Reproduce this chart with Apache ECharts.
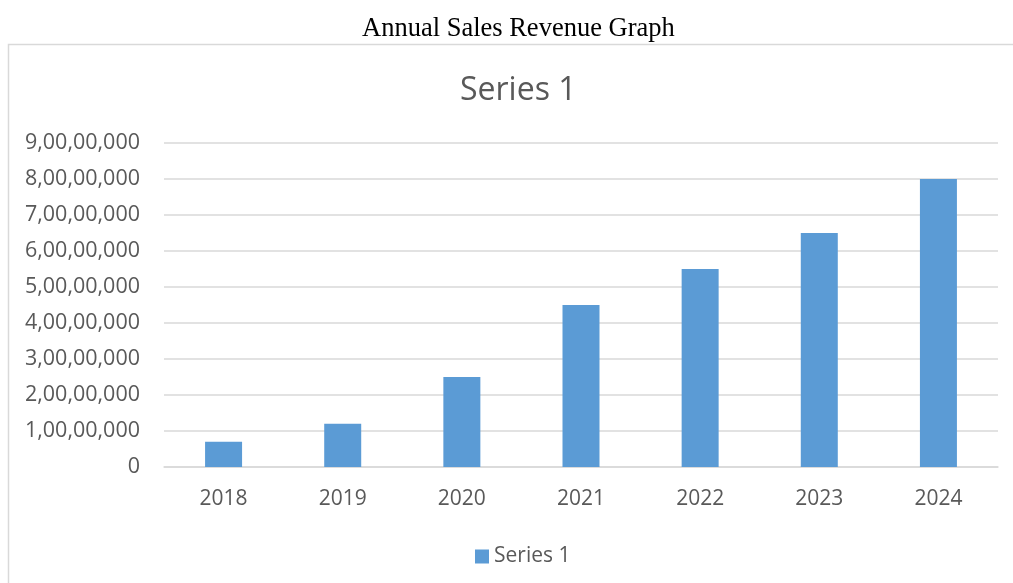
<!DOCTYPE html>
<html>
<head>
<meta charset="utf-8">
<script src="https://cdn.jsdelivr.net/npm/echarts@6/dist/echarts.min.js"></script>
<style>
html,body{margin:0;padding:0;background:#fff;}
#chart{width:1013px;height:583px;}
</style>
</head>
<body>
<div id="chart"></div>
<script>
const pageTitle = "Annual Sales Revenue Graph";
const chartTitle = "Series 1";
const seriesName = "Series 1";
const years = ["2018", "2019", "2020", "2021", "2022", "2023", "2024"];
const revenue = [7000000, 12000000, 25000000, 45000000, 55000000, 65000000, 80000000];
const yMin = 0, yMax = 90000000, yStep = 10000000;

function indianFormat(v) {
  const s = String(Math.round(v));
  if (s.length <= 3) return s;
  const last3 = s.slice(-3);
  let rest = s.slice(0, -3);
  const parts = [];
  while (rest.length > 2) { parts.unshift(rest.slice(-2)); rest = rest.slice(0, -2); }
  if (rest.length) parts.unshift(rest);
  return parts.join(",") + "," + last3;
}

const gray = "#595959";
const lineGray = "#d9d9d9";
const font = "'Open Sans', sans-serif";

const chart = echarts.init(document.getElementById("chart"), null, {renderer: "canvas"});
chart.setOption({
  animation: false,
  backgroundColor: "#fff",
  graphic: [{
    type: "rect",
    shape: {x: 8.5, y: 44.5, width: 1200, height: 700},
    style: {fill: "none", stroke: lineGray, lineWidth: 1.5},
    silent: true,
    z: -1
  }],
  title: [{
    text: pageTitle,
    left: 357,
    top: 11,
    padding: 5,
    textStyle: {fontFamily: "'Liberation Serif', 'Times New Roman', serif", fontSize: 26.5, fontWeight: "normal", color: "#000"}
  }, {
    text: chartTitle,
    left: 455,
    top: 70,
    padding: 5,
    textStyle: {fontFamily: font, fontSize: 32, fontWeight: "normal", color: gray}
  }],
  legend: {
    data: [seriesName],
    left: 470,
    top: 541,
    icon: "rect",
    itemWidth: 14,
    itemHeight: 14,
    itemGap: 10,
    textStyle: {fontFamily: font, fontSize: 21, color: gray, padding: [0, 0, 0, 0]}
  },
  grid: {left: 164, right: 15, top: 143, bottom: 116, containLabel: false},
  xAxis: {
    type: "category",
    data: years,
    axisLine: {show: true, lineStyle: {color: lineGray, width: 1.5}},
    axisTick: {show: false},
    axisLabel: {fontFamily: font, fontSize: 21, color: gray, margin: 22}
  },
  yAxis: {
    type: "value",
    min: yMin,
    max: yMax,
    interval: yStep,
    axisLine: {show: false},
    axisTick: {show: false},
    splitLine: {lineStyle: {color: lineGray, width: 1.5}},
    axisLabel: {fontFamily: font, fontSize: 21.5, color: gray, margin: 24, formatter: indianFormat}
  },
  series: [{
    name: seriesName,
    type: "bar",
    data: revenue,
    barWidth: 37,
    itemStyle: {color: "#5B9BD5"}
  }]
});
</script>
</body>
</html>
